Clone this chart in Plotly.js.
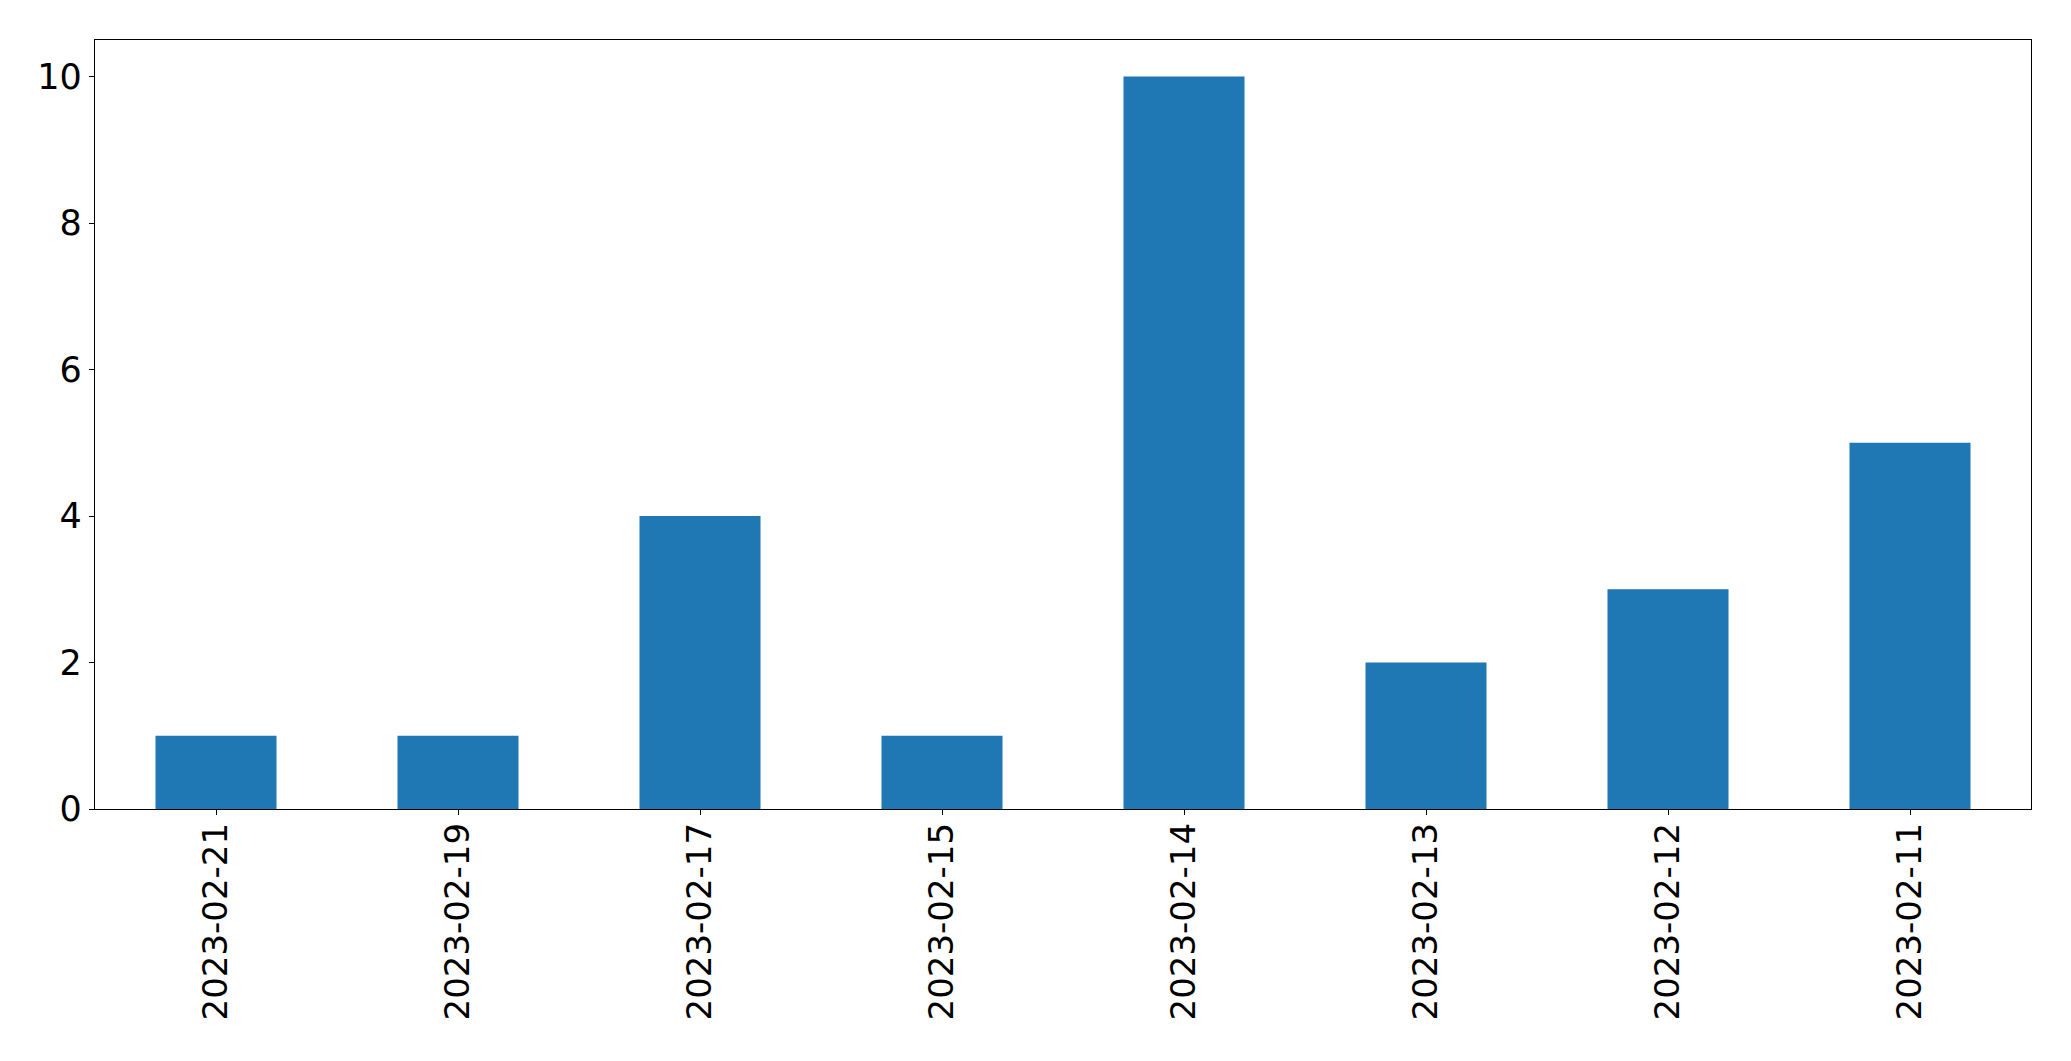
<!DOCTYPE html>
<html>
<head>
<meta charset="utf-8">
<script src="https://cdn.plot.ly/plotly-3.0.1.min.js"></script>
<style>html,body{margin:0;padding:0;background:#fff;}#chart{width:2071px;height:1061px;}</style>
</head>
<body>
<div id="chart"></div>
<script>
const categories = ["2023-02-21","2023-02-19","2023-02-17","2023-02-15","2023-02-14","2023-02-13","2023-02-12","2023-02-11"];
const counts = [1, 1, 4, 1, 10, 2, 3, 5];
const yTicks = [0, 2, 4, 6, 8, 10];

const trace = {
  type: 'bar',
  x: categories,
  y: counts,
  width: 0.5,
  marker: {color: '#1f77b4', line: {width: 0}},
  hoverinfo: 'x+y'
};

const layout = {
  width: 2071,
  height: 1061,
  paper_bgcolor: '#ffffff',
  plot_bgcolor: '#ffffff',
  margin: {l: 94.5, r: 39.5, t: 39.5, b: 252, pad: 0},
  showlegend: false,
  font: {family: 'DejaVu Sans', color: '#000000', size: 34},
  xaxis: {
    type: 'category',
    range: [-0.5, 7.5],
    tickangle: -90,
    ticks: 'outside',
    ticklen: 5,
    tickwidth: 1,
    tickcolor: '#000',
    showline: true,
    linecolor: '#000',
    linewidth: 1.3,
    mirror: true,
    showgrid: false,
    zeroline: false,
    tickfont: {family: 'DejaVu Sans', size: 34, color: '#000'},
    ticklabelstandoff: -6
  },
  yaxis: {
    range: [0, 10.5],
    tickmode: 'array',
    tickvals: yTicks,
    ticktext: yTicks.map(String),
    ticks: 'outside',
    ticklen: 5,
    tickwidth: 1,
    tickcolor: '#000',
    showline: true,
    linecolor: '#000',
    linewidth: 1.3,
    mirror: true,
    showgrid: false,
    zeroline: false,
    tickfont: {family: 'DejaVu Sans', size: 35, color: '#000'},
    ticklabelstandoff: 0
  }
};

Plotly.newPlot('chart', [trace], layout, {displayModeBar: false, staticPlot: true});
</script>
</body>
</html>
